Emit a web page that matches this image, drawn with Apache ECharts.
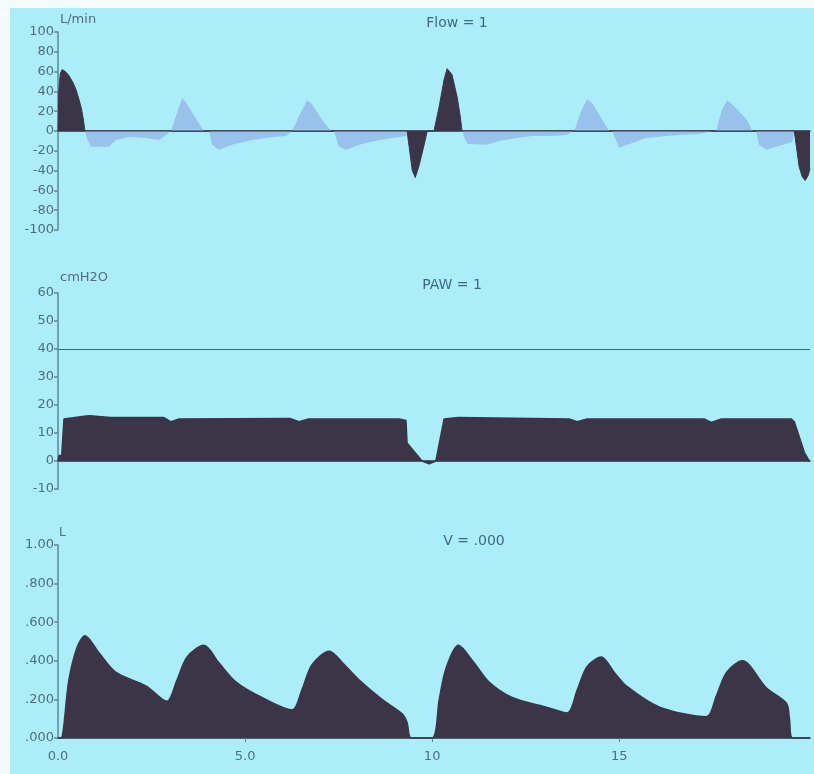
<!DOCTYPE html>
<html>
<head>
<meta charset="utf-8">
<script src="https://cdn.jsdelivr.net/npm/echarts@6/dist/echarts.min.js"></script>
<style>
html,body{margin:0;padding:0;background:#abedf8;}
#c{width:814px;height:774px;}
</style>
</head>
<body>
<div id="c"></div>
<script>
// ---- data (time in s) ----
const xTicks = [0, 5, 10, 15];
const flowTicks = [100, 80, 60, 40, 20, 0, -20, -40, -60, -80, -100];
const pawTicks = [60, 50, 40, 30, 20, 10, 0, -10];
const volTicks = ["1.00", ".800", ".600", ".400", ".200", ".000"];

// mandatory-breath flow (dark)
const flowMandatory = [
  [0,0],[0.02,40],[0.06,58],[0.11,62],[0.2,60],[0.29,56],[0.4,49],[0.48,42],[0.56,32],[0.63,22],[0.68,11],[0.72,0],
  [9.33,0],[9.47,-40],[9.55,-47],[9.65,-35],[9.76,-18],[9.87,0],
  [10.05,0],[10.19,25],[10.32,52],[10.4,63],[10.53,57],[10.67,34],[10.75,15],[10.8,0],
  [19.68,0],[19.81,-36],[19.89,-46],[19.97,-50],[20.05,-45],[20.1,-38]
];
// spontaneous-breath flow (light)
const flowSpont = [
  [0.72,0],[0.78,-8],[0.88,-16],[1.36,-16],[1.55,-9],[1.9,-6],[2.35,-7],[2.7,-9],[2.89,-4],[3.02,0],
  [3.16,16],[3.32,33],[3.42,29],[3.69,12],[3.9,0],[4.04,0],[4.12,-14],[4.3,-19],[4.65,-14],[5.19,-9],[5.72,-6],[6.1,-5],[6.26,0],
  [6.31,0],[6.44,15],[6.66,31],[6.79,27],[7.06,11],[7.3,0],[7.38,0],[7.51,-16],[7.7,-19],[8.05,-14],[8.58,-9],[9.12,-6],[9.3,-5],[9.33,0],
  [10.8,0],[10.86,-6],[10.94,-13],[11.44,-14],[11.79,-10],[12.25,-7],[12.67,-5],[13.13,-5],[13.58,-4],[13.8,0],
  [13.85,0],[13.98,20],[14.14,32],[14.28,28],[14.55,11],[14.73,0],[14.81,0],[15.0,-17],[15.35,-12],[15.72,-7],[16.26,-5],[16.6,-4],[17.14,-3],[17.49,0],
  [17.59,0],[17.75,22],[17.89,31],[18.02,27],[18.4,12],[18.56,0],[18.66,0],[18.74,-14],[18.93,-19],[19.28,-15],[19.63,-11],[19.68,0]
];
// airway pressure
const paw = [
  [0,0],[0.03,2],[0.1,2],[0.16,15],[0.7,16],[0.85,16.2],[1.4,15.5],[2.83,15.5],[3.02,14],[3.24,15],[6.2,15.2],[6.44,14],[6.7,15],
  [9.12,15],[9.3,14.5],[9.33,6.4],[9.73,0],[9.92,-1],[10.1,0],[10.32,15],[10.7,15.5],[13.66,15],[13.88,14],[14.14,15],
  [17.27,15],[17.46,13.8],[17.73,15],[19.6,15],[19.68,14],[19.95,3],[20.08,0],[20.1,0]
];
// volume
const volume = [
  [0,0],[0.08,0],[0.29,0.3],[0.51,0.47],[0.72,0.53],[1.1,0.44],[1.55,0.34],[2.35,0.27],[2.91,0.19],
  [3.18,0.3],[3.45,0.42],[3.9,0.48],[4.3,0.39],[4.76,0.29],[5.45,0.21],[6.26,0.145],
  [6.52,0.25],[6.79,0.38],[7.25,0.45],[7.65,0.38],[8.05,0.3],[8.66,0.2],[9.2,0.125],[9.33,0.08],[9.44,0],
  [10.0,0],[10.19,0.2],[10.37,0.36],[10.7,0.48],[11.12,0.39],[11.52,0.29],[12.14,0.21],[13.05,0.16],[13.61,0.13],
  [13.88,0.25],[14.14,0.37],[14.52,0.42],[14.87,0.34],[15.19,0.27],[16.08,0.16],[17.33,0.11],
  [17.6,0.22],[17.87,0.34],[18.29,0.4],[18.93,0.26],[19.47,0.18],[19.55,0.1],[19.63,0],[20.1,0]
];

const DARK = '#3c3547';
const LIGHT = '#98c2ec';
const AXIS = '#5b8796';
const TXT = '#4f6f7e';
const FONT = 'DejaVu Sans';

const chart = echarts.init(document.getElementById('c'), null, {renderer: 'canvas'});

function yAx(grid, min, max, interval, fmt) {
  return {
    type: 'value', gridIndex: grid, min: min, max: max, interval: interval,
    splitLine: {show: false},
    axisLine: {show: true, lineStyle: {color: AXIS, width: 1.5}},
    axisTick: {show: true, length: 4, lineStyle: {color: AXIS, width: 1.5}},
    axisLabel: {color: TXT, fontFamily: FONT, fontSize: 13, margin: 4, formatter: fmt}
  };
}
function xAx(grid, showLabels) {
  return {
    type: 'value', gridIndex: grid, min: 0, max: 20.1,
    splitLine: {show: false},
    axisLine: {show: true, onZero: true, lineStyle: {color: '#28303a', width: 1.5}},
    axisTick: showLabels ? {show: true, length: 4, customValues: [5, 10, 15], lineStyle: {color: AXIS}} : {show: false},
    axisLabel: showLabels ? {
      show: true, customValues: xTicks, color: TXT, fontFamily: FONT, fontSize: 13, margin: 12,
      formatter: v => (v < 10 ? v.toFixed(1) : String(v))
    } : {show: false}
  };
}
function areaSeries(name, xi, yi, data, color, lw, smooth) {
  return {
    name: name, type: 'line', xAxisIndex: xi, yAxisIndex: yi, data: data,
    symbol: 'none', smooth: smooth || false, silent: true,
    lineStyle: {color: DARK, width: lw},
    areaStyle: {color: color, opacity: 1}
  };
}

const volFmt = v => {
  const i = Math.round(v * 5);
  return volTicks[5 - i];
};

const option = {
  backgroundColor: '#abedf8',
  animation: false,
  grid: [
    {left: 58, right: 4, top: 32, height: 198},
    {left: 58, right: 4, top: 293, height: 196},
    {left: 58, right: 4, top: 545, height: 193}
  ],
  xAxis: [xAx(0, false), xAx(1, false), xAx(2, true)],
  yAxis: [
    yAx(0, -100, 100, 20, v => String(v)),
    yAx(1, -10, 60, 10, v => String(v)),
    yAx(2, 0, 1, 0.2, volFmt)
  ],
  graphic: [
    {type: 'rect', shape: {x: 0, y: 0, width: 814, height: 8}, style: {fill: '#f4fbfd'}, z: 100},
    {type: 'rect', shape: {x: 0, y: 0, width: 10, height: 774}, style: {fill: '#f4fbfd'}, z: 100},
    {type: 'text', left: 60, top: 13, style: {text: 'L/min', fill: TXT, font: '13px "DejaVu Sans"'}},
    {type: 'text', left: 60, top: 271, style: {text: 'cmH2O', fill: TXT, font: '13px "DejaVu Sans"'}},
    {type: 'text', left: 59, top: 527, style: {text: 'L', fill: TXT, font: '12px "DejaVu Sans"'}},
    {type: 'text', x: 457, y: 23, style: {text: 'Flow = 1', fill: '#3f6a86', font: '14px "DejaVu Sans"', align: 'center', verticalAlign: 'middle'}},
    {type: 'text', x: 452, y: 285, style: {text: 'PAW = 1', fill: '#3f6a86', font: '14px "DejaVu Sans"', align: 'center', verticalAlign: 'middle'}},
    {type: 'text', x: 474, y: 541, style: {text: 'V = .000', fill: '#3f6a86', font: '14px "DejaVu Sans"', align: 'center', verticalAlign: 'middle'}}
  ],
  series: [
    areaSeries('Flow spontaneous', 0, 0, flowSpont, LIGHT, 0, false),
    areaSeries('Flow mandatory', 0, 0, flowMandatory, DARK, 1, false),
    Object.assign(areaSeries('PAW', 1, 1, paw, DARK, 1.5, false), {
      markLine: {
        silent: true, symbol: 'none', label: {show: false},
        lineStyle: {color: '#4c5e6a', width: 1.2, type: 'solid'},
        data: [{yAxis: 40}]
      }
    }),
    areaSeries('V', 2, 2, volume, DARK, 1.5, 0.3)
  ]
};
chart.setOption(option);
</script>
</body>
</html>
